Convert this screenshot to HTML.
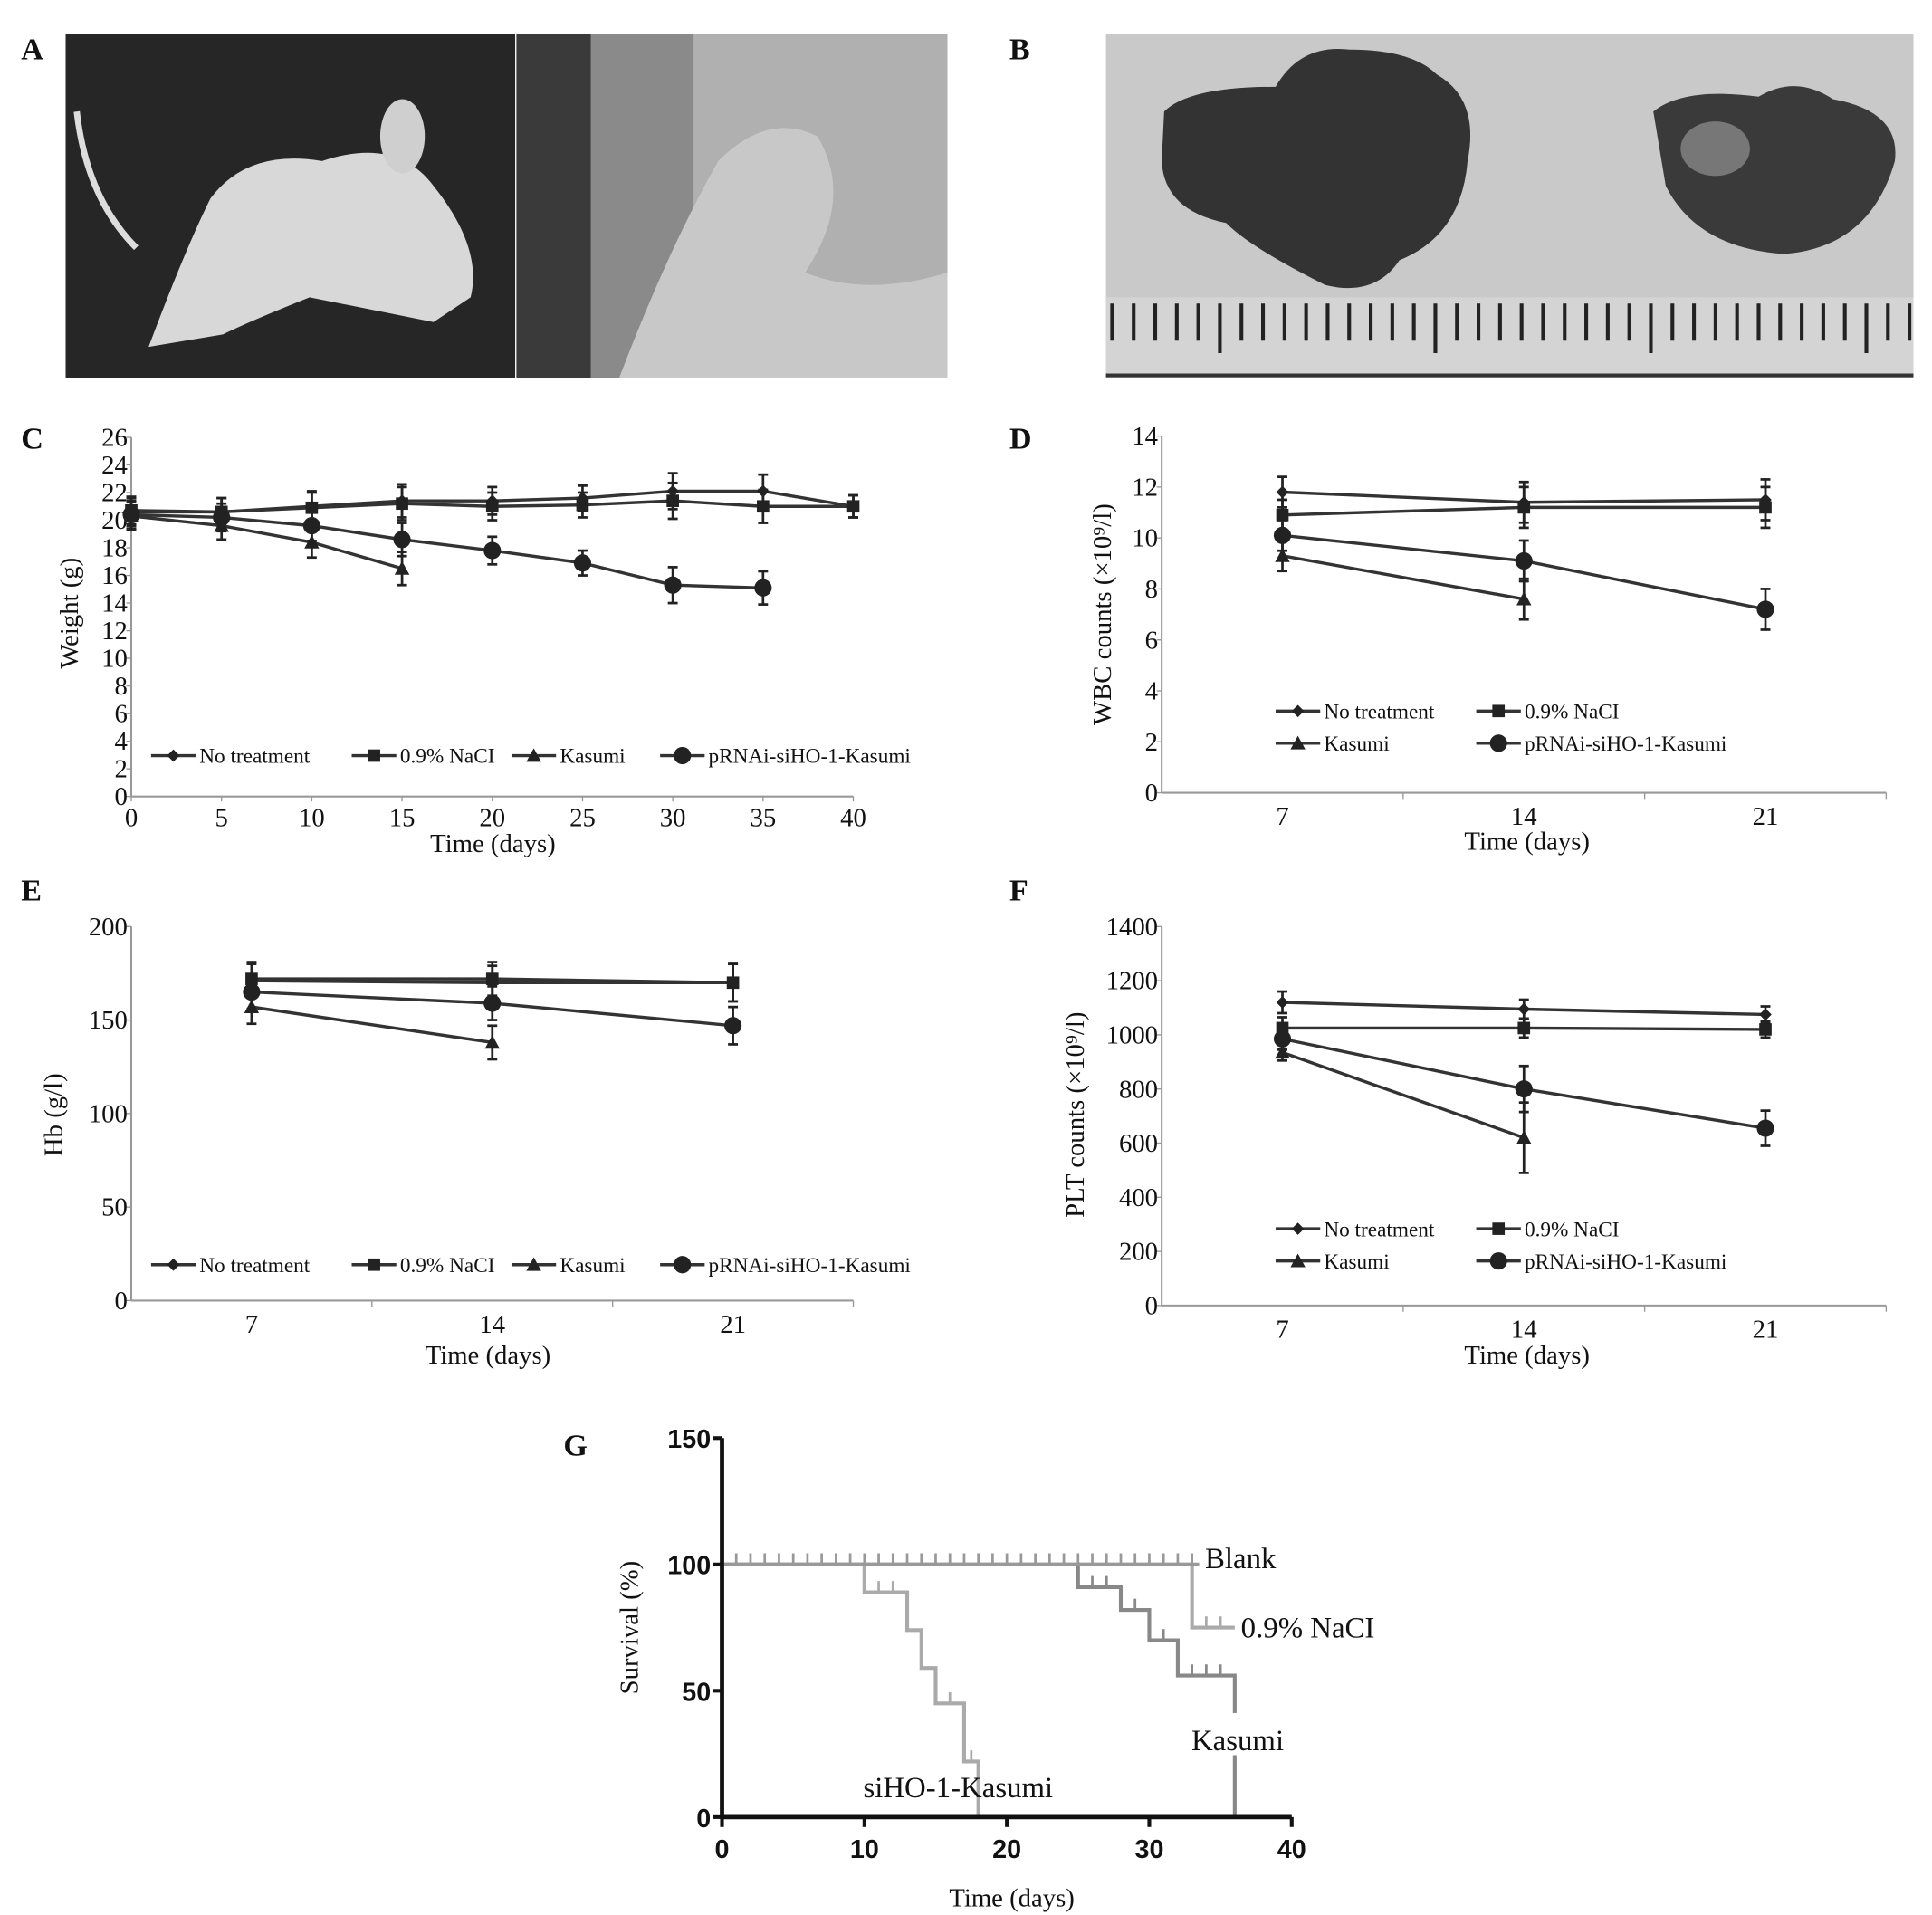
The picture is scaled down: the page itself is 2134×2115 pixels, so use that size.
<!DOCTYPE html>
<html><head><meta charset="utf-8">
<style>
html,body{margin:0;padding:0;background:#fff;}
svg{display:block;}
text{font-family:"Liberation Serif",serif;fill:#111;}
.tk{font-size:21px;}
.lg{font-size:17px;}
.ttl{font-size:21px;}
.pl{font-size:25px;font-weight:bold;}
.gt{font-family:"Liberation Sans",sans-serif;font-weight:bold;font-size:21px;}
</style></head>
<body>
<svg id="fig" width="2134" height="2115" viewBox="0 0 1560 1546" xmlns="http://www.w3.org/2000/svg">
<g>
<rect x="53" y="27" width="363" height="278" fill="#262626"/>
<path d="M120 280 Q150 200 170 160 Q200 120 260 130 Q320 110 350 150 Q390 200 380 240 L350 260 Q300 250 250 240 Q200 260 180 270 Z" fill="#d8d8d8"/>
<ellipse cx="325" cy="110" rx="18" ry="30" fill="#cfcfcf"/>
<path d="M62 90 Q70 160 110 200" stroke="#ddd" stroke-width="5" fill="none"/>
<rect x="417" y="27" width="348" height="278" fill="#8a8a8a"/>
<rect x="417" y="27" width="60" height="278" fill="#3a3a3a"/>
<rect x="560" y="27" width="205" height="278" fill="#b0b0b0"/>
<path d="M500 305 Q540 200 580 130 Q620 90 660 110 Q690 160 650 220 Q700 240 765 220 L765 305 Z" fill="#c8c8c8"/>
</g>
<g>
<rect x="893" y="27" width="652" height="278" fill="#c9c9c9"/>
<path d="M940 90 Q960 70 1030 70 Q1050 35 1090 40 Q1140 40 1160 60 Q1195 80 1185 130 Q1180 190 1130 210 Q1110 240 1070 230 Q1010 200 990 180 Q940 170 938 130 Z" fill="#333"/>
<path d="M1335 90 Q1360 70 1420 78 Q1450 60 1480 80 Q1535 90 1530 130 Q1510 200 1440 205 Q1370 200 1345 150 Z" fill="#3a3a3a"/>
<ellipse cx="1385" cy="120" rx="28" ry="22" fill="#777"/>
<rect x="893" y="240" width="652" height="65" fill="#d4d4d4"/>
<g id="ruler" stroke="#222" stroke-width="3"></g>
</g>
<text class="pl" x="17" y="48">A</text>
<text class="pl" x="815" y="48">B</text>
<text class="pl" x="17" y="362">C</text>
<text class="pl" x="815" y="362">D</text>
<text class="pl" x="17" y="727">E</text>
<text class="pl" x="815" y="727">F</text>
<text class="pl" x="455" y="1175">G</text>
<g id="charts"></g>
</svg>
<script>
const seriesNames = ["No treatment","0.9% NaCI","Kasumi","pRNAi-siHO-1-Kasumi"];
const markers = ["diamond","square","triangle","circle"];
const weightDays = [0,5,10,15,20,25,30,35,40];
const weightNoTreat = [20.6,20.6,21.0,21.4,21.4,21.6,22.1,22.1,21.0];
const weightNaCl = [20.7,20.6,20.9,21.2,21.0,21.1,21.4,21.0,21.0];
const weightKasumi = [20.3,19.6,18.4,16.5];
const weightSiHO = [20.4,20.2,19.6,18.6,17.8,16.9,15.3,15.1];
const weightErr = [1.0,1.0,1.1,1.2,1.0,0.9,1.3,1.2,0.8];
const bloodDays = ["7","14","21"];
const wbcNoTreat = [11.8,11.4,11.5];
const wbcNaCl = [10.9,11.2,11.2];
const wbcKasumi = [9.3,7.6];
const wbcSiHO = [10.1,9.1,7.2];
const wbcErr = [0.6,0.8,0.8];
const hbNoTreat = [171,170,170];
const hbNaCl = [172,172,170];
const hbKasumi = [157,138];
const hbSiHO = [165,159,147];
const hbErr = [9,9,10];
const pltNoTreat = [1120,1095,1075];
const pltNaCl = [1025,1025,1020];
const pltKasumi = [935,620];
const pltSiHO = [985,800,655];
const pltErr = [40,35,30];
const pltErrK = [30,130];
const pltErrS = [40,85,65];
const yTicksC = [0,2,4,6,8,10,12,14,16,18,20,22,24,26];
const xTicksC = [0,5,10,15,20,25,30,35,40];
const yTicksD = [0,2,4,6,8,10,12,14];
const yTicksE = [0,50,100,150,200];
const yTicksF = [0,200,400,600,800,1000,1200,1400];
const survBlankT = [0,33.5];
const survBlankS = [100,100];
const survNaClT = [0,33,36];
const survNaClS = [100,75,75];
const survKasumiT = [0,25,28,30,32,36,36];
const survKasumiS = [100,91,82,70,56,56,0];
const survSiHOT = [0,10,13,14,15,17,18,18];
const survSiHOS = [100,89,74,59,45,22,22,0];
const censorBlank = [1,2,3,4,5,6,7,8,9,10,11,12,13,14,15,16,17,18,19,20,21,22,23,24,25,26,27,28,29,30,31,32,33];
const censorNaCl = [34,35];
const censorKasumi = [26,27,29,31,33,34,35];
const censorSiHO = [11,12,16,17.5];
const yTicksG = [0,50,100,150];
const xTicksG = [0,10,20,30,40];

const NS="http://www.w3.org/2000/svg";
const root=document.getElementById('charts');
function mk(tag,attrs,parent){const e=document.createElementNS(NS,tag);for(const k in attrs)e.setAttribute(k,attrs[k]);(parent||root).appendChild(e);return e;}
function txt(s,attrs,parent){const e=mk('text',attrs,parent);e.textContent=s;return e;}

const rul=document.getElementById('ruler');
for(let i=0;i<38;i++){const x=898+i*17.4;mk('line',{x1:x,y1:245,x2:x,y2:(i%10==5?285:275)},rul);}
mk('line',{x1:893,y1:303,x2:1545,y2:303,stroke:'#333','stroke-width':3},rul);

function marker(g,type,x,y){
  let e;
  if(type==='diamond') e=mk('path',{d:`M${x} ${y-5}L${x+5} ${y}L${x} ${y+5}L${x-5} ${y}Z`,fill:'#222'},g);
  else if(type==='square') e=mk('rect',{x:x-5,y:y-5,width:10,height:10,fill:'#222'},g);
  else if(type==='triangle') e=mk('path',{d:`M${x} ${y-6}L${x+6} ${y+5}L${x-6} ${y+5}Z`,fill:'#222'},g);
  else e=mk('circle',{cx:x,cy:y,r:7,fill:'#222'},g);
  return e;
}

function lineChart(o){
  const g=mk('g',{});
  
  
  const ys=v=>o.y0-(v-o.ymin)/(o.ymax-o.ymin)*(o.y0-o.y1);
  mk('line',{x1:o.x0,y1:o.y0,x2:o.xEnd,y2:o.y0,stroke:'#999','stroke-width':1.5},g);
  mk('line',{x1:o.x0,y1:o.y0,x2:o.x0,y2:o.y1,stroke:'#999','stroke-width':1.5},g);
  o.yTicks.forEach(v=>{const y=ys(v);mk('line',{x1:o.x0-4,y1:y,x2:o.x0,y2:y,stroke:'#999'},g);
    const t=txt(String(v),{x:o.x0-3,y:y+7,'text-anchor':'end',class:'tk'},g);
    
    });
  let xs;
  if(o.numeric){
    xs=v=>o.x0+(v-o.xmin)/(o.xmax-o.xmin)*(o.xEnd-o.x0);
    o.xTicks.forEach(v=>{const x=xs(v);mk('line',{x1:x,y1:o.y0,x2:x,y2:o.y0+4,stroke:'#999'},g);
      const t=txt(String(v),{x:x,y:o.y0+24,'text-anchor':'middle',class:'tk'},g);
      
      });
  } else {
    const bw=(o.xEnd-o.x0)/o.cats.length;
    xs=i=>o.x0+bw*(i+0.5);
    for(let i=1;i<=o.cats.length;i++){const x=o.x0+bw*i;mk('line',{x1:x,y1:o.y0,x2:x,y2:o.y0+5,stroke:'#999'},g);}
    o.cats.forEach((c,i)=>{const t=txt(c,{x:xs(i),y:o.y0+26,'text-anchor':'middle',class:'tk'},g);
      
      });
  }
  o.series.forEach((s,si)=>{
    const sg=mk('g',{},g);
    
    
    const xv=i=>o.numeric?xs(o.xvals[i]):xs(i);
    let d='';s.vals.forEach((v,i)=>{d+=(i?'L':'M')+xv(i)+' '+ys(v);});
    mk('path',{d:d,fill:'none',stroke:'#333','stroke-width':2.5},sg);
    s.vals.forEach((v,i)=>{
      const x=xv(i),e=s.err[i]||0;
      mk('line',{x1:x,y1:ys(v-e),x2:x,y2:ys(v+e),stroke:'#222','stroke-width':2},sg);
      mk('line',{x1:x-4,y1:ys(v-e),x2:x+4,y2:ys(v-e),stroke:'#222','stroke-width':2},sg);
      mk('line',{x1:x-4,y1:ys(v+e),x2:x+4,y2:ys(v+e),stroke:'#222','stroke-width':2},sg);
      const m=marker(sg,markers[si],x,ys(v));
      
      
    });
  });
  o.legend.forEach((p,i)=>{
    const lg=mk('g',{},g);
    
    
    mk('line',{x1:p[0],y1:p[1],x2:p[0]+36,y2:p[1],stroke:'#333','stroke-width':2.5},lg);
    marker(lg,markers[i],p[0]+18,p[1]);
    txt(seriesNames[i],{x:p[0]+39,y:p[1]+6,class:'lg'},lg);
  });
  const xt=txt('Time (days)',{x:o.xtx,y:o.xty,'text-anchor':'middle',class:'ttl'},g);
  
  
  const yt=txt(o.ytitle,{x:0,y:0,'text-anchor':'middle',class:'ttl',transform:`translate(${o.ytx},${o.yty}) rotate(-90)`},g);
  
  
}

const legendRow=y=>[[122,y],[284,y],[413,y],[533,y]];
const legendGrid=(y1,y2)=>[[1030,y1],[1192,y1],[1030,y2],[1192,y2]];

lineChart({name:'weight-chart',numeric:true,x0:106,xEnd:689,y0:643,y1:353,ymin:0,ymax:26,xmin:0,xmax:40,
  xvals:weightDays,xTicks:xTicksC,yTicks:yTicksC,
  series:[{vals:weightNoTreat,err:weightErr},{vals:weightNaCl,err:weightErr},{vals:weightKasumi,err:weightErr},{vals:weightSiHO,err:weightErr}],
  legend:legendRow(610),xtx:398,xty:688,ytitle:'Weight (g)',ytx:63,yty:495});
lineChart({name:'wbc-chart',numeric:false,cats:bloodDays,x0:938,xEnd:1523,y0:640,y1:352,ymin:0,ymax:14,yTicks:yTicksD,
  series:[{vals:wbcNoTreat,err:wbcErr},{vals:wbcNaCl,err:wbcErr},{vals:wbcKasumi,err:wbcErr},{vals:wbcSiHO,err:wbcErr}],
  legend:legendGrid(574,600),xtx:1233,xty:686,ytitle:'WBC counts (×10⁹/l)',ytx:897,yty:496});
lineChart({name:'hb-chart',numeric:false,cats:bloodDays,x0:106,xEnd:689,y0:1050,y1:748,ymin:0,ymax:200,yTicks:yTicksE,
  series:[{vals:hbNoTreat,err:hbErr},{vals:hbNaCl,err:hbErr},{vals:hbKasumi,err:hbErr},{vals:hbSiHO,err:hbErr}],
  legend:legendRow(1021),xtx:394,xty:1101,ytitle:'Hb (g/l)',ytx:50,yty:900});
lineChart({name:'plt-chart',numeric:false,cats:bloodDays,x0:938,xEnd:1523,y0:1054,y1:748,ymin:0,ymax:1400,yTicks:yTicksF,
  series:[{vals:pltNoTreat,err:pltErr},{vals:pltNaCl,err:pltErr},{vals:pltKasumi,err:pltErrK},{vals:pltSiHO,err:pltErrS}],
  legend:legendGrid(992,1018),xtx:1233,xty:1101,ytitle:'PLT counts (×10⁹/l)',ytx:875,yty:900});

(function(){
  const g=mk('g',{});
  
  
  const X0=583,X1=1043,Y0=1467,Y1=1161;
  const xs=v=>X0+v/40*(X1-X0), ys=v=>Y0-v/150*(Y0-Y1);
  function step(T,S,color,name){
    let d='M'+xs(T[0])+' '+ys(S[0]);
    for(let i=1;i<T.length;i++){d+='H'+xs(T[i])+'V'+ys(S[i]);}
    const p=mk('path',{d:d,fill:'none',stroke:color,'stroke-width':3},g);
    
    
  }
  function cens(T,tList,S,color){
    tList.forEach(t=>{let v=S[0];for(let i=0;i<T.length;i++){if(T[i]<=t)v=S[i];}
      mk('line',{x1:xs(t),y1:ys(v),x2:xs(t),y2:ys(v)-9,stroke:color,'stroke-width':2},g);});
  }
  step(survSiHOT,survSiHOS,'#aaa','line-sho1-kasumi');
  step(survKasumiT,survKasumiS,'#888','line-kasumi');
  step(survNaClT,survNaClS,'#aaa','line-nacl');
  step(survBlankT,survBlankS,'#999','line-blank');
  cens(survBlankT,censorBlank,survBlankS,'#999');
  cens(survNaClT,censorNaCl,survNaClS,'#aaa');
  cens(survKasumiT,censorKasumi,survKasumiS,'#888');
  cens(survSiHOT,censorSiHO,survSiHOS,'#aaa');
  mk('line',{x1:X0,y1:Y0,x2:X1,y2:Y0,stroke:'#111','stroke-width':3.5},g);
  mk('line',{x1:X0,y1:Y0,x2:X0,y2:Y1,stroke:'#111','stroke-width':3.5},g);
  yTicksG.forEach(v=>{mk('line',{x1:X0-7,y1:ys(v),x2:X0,y2:ys(v),stroke:'#111','stroke-width':3},g);
    const t=txt(String(v),{x:X0-9,y:ys(v)+8,'text-anchor':'end',class:'gt'},g);
    
    });
  xTicksG.forEach(v=>{mk('line',{x1:xs(v),y1:Y0,x2:xs(v),y2:Y0+8,stroke:'#111','stroke-width':3},g);
    const t=txt(String(v),{x:xs(v),y:Y0+33,'text-anchor':'middle',class:'gt'},g);
    
    });
  mk('rect',{x:955,y:1383,width:90,height:34,fill:'#fff'},g);
  const labels=[['Blank',973,1266],['0.9% NaCI',1002,1322],['Kasumi',962,1413],['siHO-1-Kasumi',697,1451]];
  labels.forEach(l=>{const t=txt(l[0],{x:l[1],y:l[2],style:'font-size:24px'},g);
    
    });
  const xt=txt('Time (days)',{x:817,y:1539,'text-anchor':'middle',class:'ttl'},g);
  
  
  const yt=txt('Survival (%)',{x:0,y:0,'text-anchor':'middle',class:'ttl',transform:'translate(515,1314) rotate(-90)'},g);
  
  
})();
</script>
</body></html>
